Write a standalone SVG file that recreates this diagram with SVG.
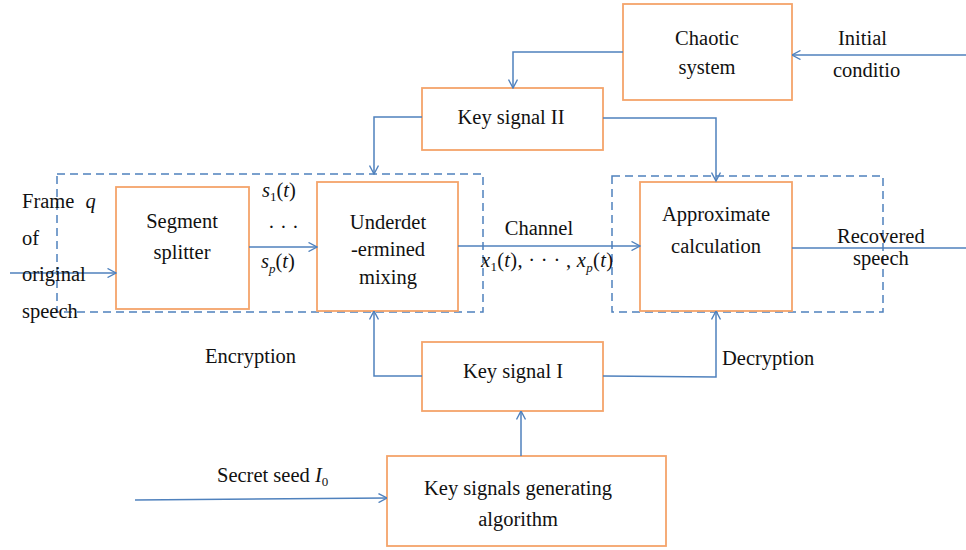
<svg xmlns="http://www.w3.org/2000/svg" width="966" height="550" viewBox="0 0 966 550">
<style>
text{font-family:"Liberation Serif","Times New Roman",serif;font-size:20.5px;fill:#111}
.c{text-anchor:middle}
.i{font-style:italic}
.sub{font-size:13px}
.box{fill:#fff;stroke:#F4A46A;stroke-width:1.8}
.ln{fill:none;stroke:#4F81BD;stroke-width:1.5}
.dash{fill:none;stroke:#4F81BD;stroke-width:1.5;stroke-dasharray:8 5}
</style>
<defs>
<marker id="ah" viewBox="0 0 10 10" refX="9.5" refY="5" markerWidth="10" markerHeight="10" markerUnits="userSpaceOnUse" orient="auto">
<path d="M1,0.5 L9.5,5 L1,9.5" fill="none" stroke="#4F81BD" stroke-width="1.4"/>
</marker>
</defs>
<g id="groups">
<rect class="dash" x="57" y="174" width="426" height="138"/>
<rect class="dash" x="612" y="176" width="271" height="136"/>
</g>
<g id="chaotic"><rect class="box" x="623" y="4" width="169" height="96"/>
<text class="c" x="707" y="45">Chaotic</text><text class="c" x="707" y="74">system</text></g>
<g id="keysig2"><rect class="box" x="422" y="88" width="181" height="62"/>
<text class="c" x="511" y="124">Key signal II</text></g>
<g id="splitter"><rect class="box" x="116" y="187" width="133" height="122"/>
<text class="c" x="182" y="228">Segment</text><text class="c" x="182" y="259">splitter</text></g>
<g id="mixing"><rect class="box" x="317" y="182" width="141" height="129"/>
<text class="c" x="388" y="229">Underdet</text><text class="c" x="388" y="256">-ermined</text><text class="c" x="388" y="284">mixing</text></g>
<g id="approx"><rect class="box" x="640" y="182" width="152" height="129"/>
<text class="c" x="716" y="221">Approximate</text><text class="c" x="716" y="253">calculation</text></g>
<g id="keysig1"><rect class="box" x="422" y="342" width="181" height="69"/>
<text class="c" x="513" y="378">Key signal I</text></g>
<g id="generator"><rect class="box" x="387" y="456" width="279" height="90"/>
<text class="c" x="518" y="495">Key signals generating</text><text class="c" x="518" y="526">algorithm</text></g>
<g id="connectors">
<path class="ln" d="M966,55 L792,55" marker-end="url(#ah)"/>
<path class="ln" d="M623,52 L513,52 L513,88" marker-end="url(#ah)"/>
<path class="ln" d="M422,117 L374,117 L374,174" marker-end="url(#ah)"/>
<path class="ln" d="M603,118 L716,118 L716,181" marker-end="url(#ah)"/>
<path class="ln" d="M10,273 L116,273" marker-end="url(#ah)"/>
<path class="ln" d="M249,247 L317,247" marker-end="url(#ah)"/>
<path class="ln" d="M458,246 L640,246" marker-end="url(#ah)"/>
<path class="ln" d="M792,248 L966,248"/>
<path class="ln" d="M422,376 L374,376 L374,311" marker-end="url(#ah)"/>
<path class="ln" d="M603,376 L716,377 L716,311" marker-end="url(#ah)"/>
<path class="ln" d="M521,456 L521,411" marker-end="url(#ah)"/>
<path class="ln" d="M135,500 L387,498" marker-end="url(#ah)"/>
</g>
<g id="labels">
<text x="838" y="45">Initial</text>
<text x="833" y="77">conditio</text>
<text x="22" y="208">Frame <tspan class="i" dx="6">q</tspan></text>
<text x="22" y="245">of</text>
<text x="22" y="281">original</text>
<text x="22" y="318">speech</text>
<text x="262" y="197"><tspan class="i">s</tspan><tspan class="sub" dy="4">1</tspan><tspan dy="-4">(</tspan><tspan class="i">t</tspan>)</text>
<text x="268" y="234">· · ·</text>
<text x="261" y="268"><tspan class="i">s</tspan><tspan class="i sub" dy="5">p</tspan><tspan dy="-5">(</tspan><tspan class="i">t</tspan>)</text>
<text class="c" x="539" y="235">Channel</text>
<text x="481" y="267" textLength="132"><tspan class="i">x</tspan><tspan class="sub" dy="4">1</tspan><tspan dy="-4">(</tspan><tspan class="i">t</tspan>), · · · , <tspan class="i">x</tspan><tspan class="i sub" dy="5">p</tspan><tspan dy="-5">(</tspan><tspan class="i">t</tspan>)</text>
<text x="837" y="243">Recovered</text>
<text x="853" y="265">speech</text>
<text x="205" y="363">Encryption</text>
<text x="722" y="365">Decryption</text>
<text x="217" y="482">Secret seed <tspan class="i">I</tspan><tspan class="sub" dy="4">0</tspan></text>
</g>
</svg>
